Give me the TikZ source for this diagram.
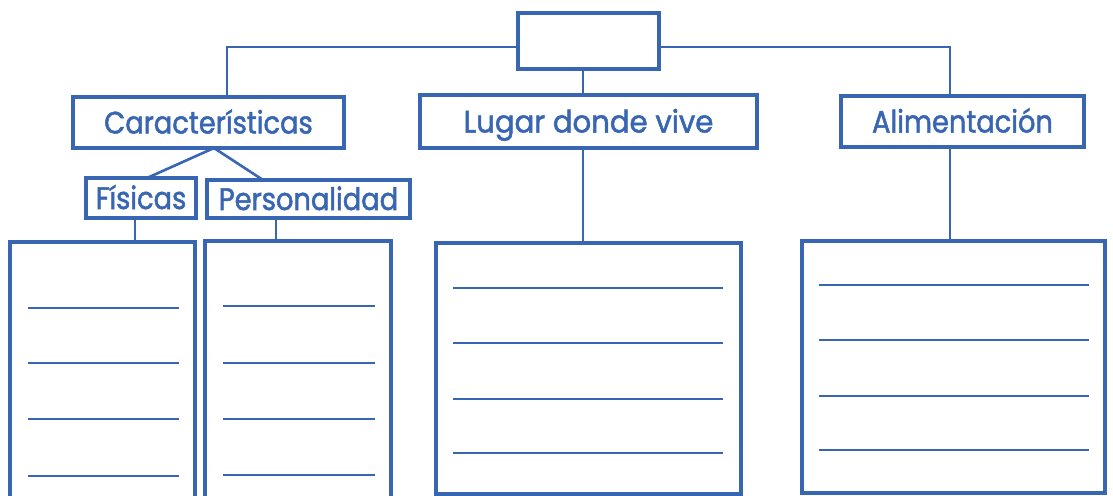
\documentclass[tikz,border=0pt]{standalone}
\usepackage{fontspec}
\newfontfamily\gfont[FakeStretch=0.88,FakeBold=1.6]{Poppins}
\newfontfamily\gfontw[FakeStretch=0.94,FakeBold=1.6]{Poppins}
\definecolor{cblue}{RGB}{56,102,178}
\begin{document}
\begin{tikzpicture}[x=1pt,y=-1pt,
  box/.style={draw=cblue,line width=3.2pt,rectangle,inner sep=0pt,fill=white},
  lbl/.style={box,font=\gfont\fontsize{31}{32}\selectfont,text=cblue,text height=22pt,text depth=0pt},
  conn/.style={draw=cblue,line width=2.6pt},
  rule/.style={draw=cblue,line width=1.5pt}]
\useasboundingbox (0,0) rectangle (1113,495);
\clip (0,0) rectangle (1113,495);
% coordinates for connector junctions
\coordinate (j1) at (227,47);
\coordinate (j2) at (950,47);
\coordinate (j3) at (583,47);
\coordinate (jc) at (214,148);
\coordinate (jf) at (135,0);
\coordinate (jp) at (276,0);
% nodes
\node[box,minimum width=141pt,minimum height=56pt] (top) at (588.5,41) {};
\node[lbl,minimum width=271pt,minimum height=51pt] (car) at (208.5,122.5) {Características};
\node[lbl,minimum width=110pt,minimum height=40pt] (fis) at (141,198) {Físicas};
\node[lbl,minimum width=203pt,minimum height=38pt] (per) at (308.5,199) {Personalidad};
\node[lbl,font=\gfontw\fontsize{31}{32}\selectfont,minimum width=337pt,minimum height=53pt] (lug) at (588.5,121.5) {Lugar donde vive};
\node[lbl,minimum width=243pt,minimum height=51pt] (ali) at (962.5,121.5) {Alimentación};
\node[box,minimum width=185pt,minimum height=270pt] (b1) at (102.5,377) {};
\node[box,minimum width=186pt,minimum height=270pt] (b2) at (298,376) {};
\node[box,minimum width=305pt,minimum height=251pt] (b3) at (588.5,368.5) {};
\node[box,minimum width=303pt,minimum height=252pt] (b4) at (953.5,367) {};
% connectors
\draw[conn] (top.west |- j1) -- (j1) -- (j1 |- car.north);
\draw[conn] (top.east |- j2) -- (j2) -- (j2 |- ali.north);
\draw[conn] (top.south -| j3) -- (j3 |- lug.north);
\draw[conn] (jc) -- (147,178);
\draw[conn] (jc) -- (263,180);
\draw[conn] (fis.south -| jf) -- (jf |- b1.north);
\draw[conn] (per.south -| jp) -- (jp |- b2.north);
\draw[conn] (lug.south -| j3) -- (j3 |- b3.north);
\draw[conn] (ali.south -| j2) -- (j2 |- b4.north);
% ruled lines
\foreach \y in {308,363,419,476} \draw[rule] (28,\y) -- (179,\y);
\foreach \y in {306,363,419,475} \draw[rule] (223,\y) -- (375,\y);
\foreach \y in {288,343,399,453} \draw[rule] (453,\y) -- (723,\y);
\foreach \y in {285,340,396,450} \draw[rule] (819,\y) -- (1089,\y);
\end{tikzpicture}
\end{document}
